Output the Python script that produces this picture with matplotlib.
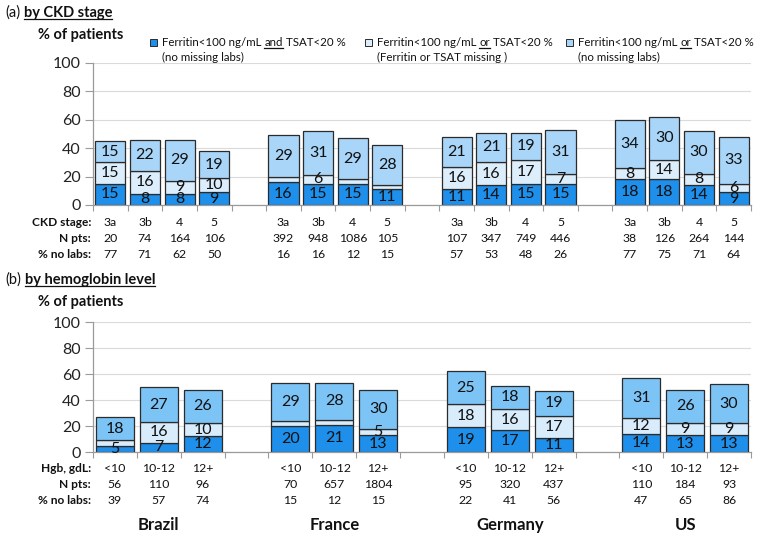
from matplotlib import pyplot as plt
from matplotlib.patches import Rectangle
from matplotlib.lines import Line2D
import matplotlib.transforms as mtransforms
import numpy as np

plt.rcParams['font.family'] = ['Lato', 'DejaVu Sans']

countries = ['Brazil', 'France', 'Germany', 'US']

# (a) by CKD stage
ckd_stages = ['3a', '3b', '4', '5']
ckd_and = [[15, 8, 8, 9], [16, 15, 15, 11], [11, 14, 15, 15], [18, 18, 14, 9]]
ckd_or_missing = [[15, 16, 9, 10], [4, 6, 3, 3], [16, 16, 17, 7], [8, 14, 8, 6]]
ckd_or_nomiss = [[15, 22, 29, 19], [29, 31, 29, 28], [21, 21, 19, 31], [34, 30, 30, 33]]
ckd_npts = [[20, 74, 164, 106], [392, 948, 1086, 105], [107, 347, 749, 446], [38, 126, 264, 144]]
ckd_nolabs = [[77, 71, 62, 50], [16, 16, 12, 15], [57, 53, 48, 26], [77, 75, 71, 64]]

# (b) by hemoglobin level
hgb_levels = ['<10', '10-12', '12+']
hgb_and = [[5, 7, 12], [20, 21, 13], [19, 17, 11], [14, 13, 13]]
hgb_or_missing = [[4, 16, 10], [4, 4, 5], [18, 16, 17], [12, 9, 9]]
hgb_or_nomiss = [[18, 27, 26], [29, 28, 30], [25, 18, 19], [31, 26, 30]]
hgb_npts = [[56, 110, 96], [70, 657, 1804], [95, 320, 437], [110, 184, 93]]
hgb_nolabs = [[39, 57, 74], [15, 12, 15], [22, 41, 56], [47, 65, 86]]

W, H = 760, 537
DARK = '#1E8FEA'
EDGE = '#2b2b2b'
AXCOL = '#9a9a9a'

fig = plt.figure(figsize=(W / 100, H / 100), dpi=100)
renderer = fig.canvas.get_renderer()


def fx(px):
    return px / W


def fy(py):
    return 1 - py / H


def inline_text(x_px, y_px, pieces, size, weight='normal'):
    ''' Write text pieces one after the other, some of them underlined
    '''
    probe = fig.text(0, 0, 'a a', fontsize=size, fontweight=weight)
    w1 = probe.get_window_extent(renderer).width
    probe.set_text('aa')
    gap = w1 - probe.get_window_extent(renderer).width
    probe.remove()
    x = x_px
    for s, ul, wt in pieces:
        t = fig.text(fx(x), fy(y_px), s, fontsize=size, fontweight=wt or weight,
                     va='baseline', ha='left', color='#111111')
        bb = t.get_window_extent(renderer)
        if ul:
            fig.add_artist(Line2D([fx(bb.x0), fx(bb.x1)], [fy(y_px + 2), fy(y_px + 2)],
                                  color='#111111', lw=0.9))
        x = bb.x1 + gap


def draw_panel(rect, levels, s_and, s_miss, s_nomiss, c_miss, c_nomiss,
               row_names, rows, rows_y):
    ax = fig.add_axes(rect)
    n = len(levels)
    total = len(countries) * (n + 1) - 1
    for g in range(len(countries)):
        x = g * (n + 1) + np.arange(n)
        a = np.array(s_and[g])
        m = np.array(s_miss[g])
        o = np.array(s_nomiss[g])
        kw = dict(width=0.87, edgecolor=EDGE, linewidth=0.9)
        b1 = ax.bar(x, a, color=DARK, **kw)
        b2 = ax.bar(x, m, bottom=a, color=c_miss, **kw)
        b3 = ax.bar(x, o, bottom=a + m, color=c_nomiss, **kw)
        for bars, vals in ((b1, a), (b2, m), (b3, o)):
            ax.bar_label(bars, labels=[str(v) if v >= 5 else '' for v in vals],
                         label_type='center', fontsize=11.5, color='#111111')
        # table below the bars
        trans = mtransforms.blended_transform_factory(ax.transData, fig.transFigure)
        for vals, ry in zip([levels] + rows, rows_y):
            vals = vals if vals is levels else vals[g]
            for xi, v in zip(x, vals):
                ax.text(xi, fy(ry), str(v), transform=trans, ha='center',
                        va='center', fontsize=8.8, color='#111111')
    for name, ry in zip(row_names, rows_y):
        fig.text(fx(91), fy(ry), name, ha='right', va='center', fontsize=8.6,
                 fontweight='bold', color='#111111')

    ax.set_xlim(-0.5, total - 0.5)
    ax.set_ylim(0, 100)
    ax.set_yticks(range(0, 101, 20))
    ax.set_xticks(np.arange(-0.5, total, 1))
    ax.set_xticklabels([])
    ax.tick_params(axis='x', length=4, color=AXCOL, width=0.8)
    ax.tick_params(axis='y', length=6, color=AXCOL, width=0.8, labelsize=11.5,
                   labelcolor='#222222', pad=3)
    for side in ('top', 'right'):
        ax.spines[side].set_visible(False)
    for side in ('left', 'bottom'):
        ax.spines[side].set_color(AXCOL)
        ax.spines[side].set_linewidth(0.9)
    ax.yaxis.grid(True, color='#dadada', linewidth=0.8)
    ax.set_axisbelow(True)
    return ax


# ---- panel (a)
inline_text(5, 17, [('(a)', False, 'normal'), ('by CKD stage', True, 'bold')], 10.5)
fig.text(fx(38), fy(35), '% of patients', fontsize=10.5, fontweight='bold',
         va='center', ha='left', color='#111111')
ax_a = draw_panel([fx(93), fy(205), fx(751) - fx(93), fy(63) - fy(205)],
                  ckd_stages, ckd_and, ckd_or_missing, ckd_or_nomiss,
                  '#dcedfc', '#a8d5f8',
                  ['CKD stage:', 'N pts:', '% no labs:'], [ckd_npts, ckd_nolabs],
                  [222, 238, 255])

# legend
legend_items = [
    (153, DARK, [('Ferritin<100 ng/mL', False, None), ('and', True, None), ('TSAT<20 %', False, None)],
     '(no missing labs)'),
    (368, '#dcedfc', [('Ferritin<100 ng/mL', False, None), ('or', True, None), ('TSAT<20 %', False, None)],
     '(Ferritin or TSAT missing )'),
    (569, '#a8d5f8', [('Ferritin<100 ng/mL', False, None), ('or', True, None), ('TSAT<20 %', False, None)],
     '(no missing labs)'),
]
for mx, col, pieces, line2 in legend_items:
    fig.add_artist(Rectangle((fx(mx - 3.5), fy(46)), fx(7), 7 / H, facecolor=col,
                             edgecolor=EDGE, linewidth=0.7, transform=fig.transFigure))
    inline_text(mx + 9, 46, pieces, 8.3)
    fig.text(fx(mx + 9), fy(61), line2, fontsize=8.3, va='baseline', ha='left',
             color='#111111')

# ---- panel (b)
inline_text(5, 284, [('(b)', False, 'normal'), ('by hemoglobin level', True, 'bold')], 10.5)
fig.text(fx(38), fy(302), '% of patients', fontsize=10.5, fontweight='bold',
         va='center', ha='left', color='#111111')
ax_b = draw_panel([fx(93), fy(452), fx(751) - fx(93), fy(322) - fy(452)],
                  hgb_levels, hgb_and, hgb_or_missing, hgb_or_nomiss,
                  '#d8ecfc', '#7cc3f6',
                  ['Hgb, gdL:', 'N pts:', '% no labs:'], [hgb_npts, hgb_nolabs],
                  [468, 484, 501])

# country names under the groups
trans_b = mtransforms.blended_transform_factory(ax_b.transData, fig.transFigure)
n_b = len(hgb_levels)
for g, name in enumerate(countries):
    ax_b.text(g * (n_b + 1) + (n_b - 1) / 2, fy(525), name, transform=trans_b,
              ha='center', va='center', fontsize=12, fontweight='bold', color='#111111')

fig.savefig('out.png', dpi=100)
